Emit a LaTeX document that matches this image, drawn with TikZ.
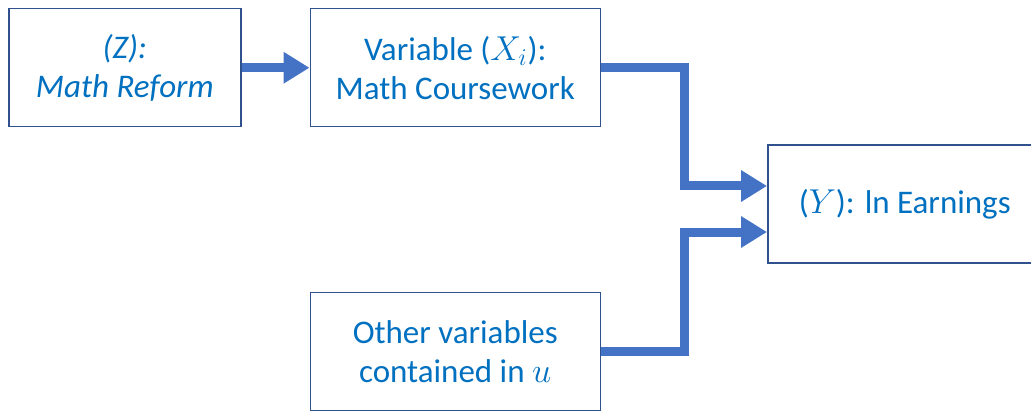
\documentclass[tikz,border=0pt]{standalone}
\usepackage{fontspec}
\setmainfont{Carlito}
\usetikzlibrary{arrows.meta, positioning}
\definecolor{clrBorder}{HTML}{2F528F}
\definecolor{clrText}{HTML}{0070C0}
\definecolor{clrArrow}{HTML}{4472C4}

\begin{document}
\begin{tikzpicture}[
  x=0.5pt, y=-0.5pt,
  box/.style = {
    rectangle,
    draw=clrBorder,
    line width=0.75pt,
    minimum height=59pt,
    align=center,
    text=clrText,
    font=\fontsize{16.5}{19.5}\selectfont
  },
  flow/.style = {
    -{Triangle[length=13pt, width=15pt]},
    line width=4.5pt,
    color=clrArrow
  }
]

% ── canvas ───────────────────────────────────────────────────────────────────
\useasboundingbox[fill=white] (0,0) rectangle (1031,411);

% ── nodes ────────────────────────────────────────────────────────────────────
\node[box, minimum width=116pt, anchor=north west] (reform) at (8,8)
  {\textit{(Z):}\\ \textit{Math Reform}};

\node[box, minimum width=145pt, right=34pt of reform] (course)
  {Variable ($X_i$):\\ Math Coursework};

\node[box, minimum width=145pt, below=82pt of course] (other)
  {Other variables\\ contained in $u$};

\node[box, minimum width=137pt, anchor=west] (earn) at (767,204)
  {($Y$): ln Earnings};

% ── arrows ───────────────────────────────────────────────────────────────────
\draw[flow] (reform) -- (course);
\draw[flow] (course.east) -- ++(41.5pt,0) |- ([yshift=9pt]earn.west);
\draw[flow] (other.east) -- ++(41.5pt,0) |- ([yshift=-14pt]earn.west);

\end{tikzpicture}
\end{document}
